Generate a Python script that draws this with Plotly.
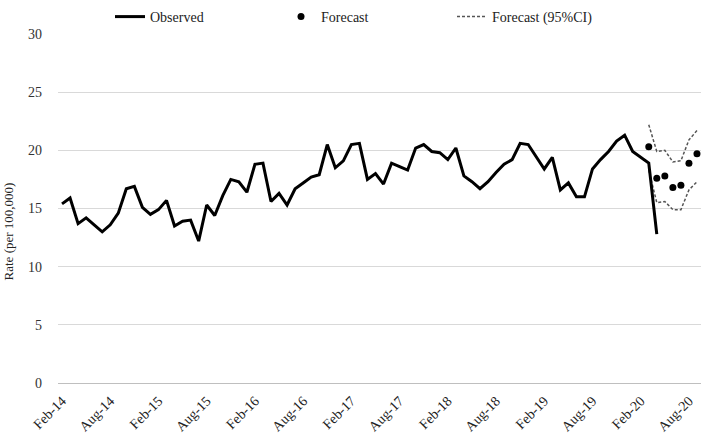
import plotly.graph_objects as go
import pandas as pd

# Monthly categories Feb-14 .. Sep-20
months = [d.strftime("%b-%y") for d in pd.date_range("2014-02-01", "2020-09-01", freq="MS")]
tick_labels = ["Feb-14", "Aug-14", "Feb-15", "Aug-15", "Feb-16", "Aug-16", "Feb-17",
               "Aug-17", "Feb-18", "Aug-18", "Feb-19", "Aug-19", "Feb-20", "Aug-20"]

observed = [15.4, 15.9, 13.7, 14.2, 13.6, 13.0, 13.6, 14.6, 16.7, 16.9, 15.1, 14.5,
            14.9, 15.7, 13.5, 13.9, 14.0, 12.2, 15.3, 14.4, 16.1, 17.5, 17.3, 16.4,
            18.8, 18.9, 15.6, 16.3, 15.3, 16.7, 17.2, 17.7, 17.9, 20.5, 18.5, 19.1,
            20.5, 20.6, 17.5, 18.0, 17.1, 18.9, 18.6, 18.3, 20.2, 20.5, 19.9, 19.8,
            19.2, 20.2, 17.8, 17.3, 16.7, 17.3, 18.1, 18.8, 19.2, 20.6, 20.5, 19.5,
            18.4, 19.4, 16.6, 17.2, 16.0, 16.0, 18.4, 19.2, 19.9, 20.8, 21.3, 19.9,
            19.4, 18.9, 12.8]
forecast_months = ["Mar-20", "Apr-20", "May-20", "Jun-20", "Jul-20", "Aug-20", "Sep-20"]
forecast = [20.3, 17.6, 17.8, 16.8, 17.0, 18.9, 19.7]
ci_upper = [22.2, 19.9, 20.0, 19.0, 19.1, 20.9, 21.7]
ci_lower = [18.3, 15.5, 15.6, 14.9, 14.9, 16.6, 17.3]

FONT = "Liberation Serif"
L, R, T, B = 58, 2, 33, 53
W, H = 703, 436
PW, PH = W - L - R, H - T - B

fig = go.Figure()
fig.add_trace(go.Scatter(x=forecast_months, y=ci_upper, mode="lines", name="Forecast (95%CI)",
                         line=dict(color="#555555", width=1.5, dash="3px,2px"),
                         legendgroup="ci", legendrank=3))
fig.add_trace(go.Scatter(x=forecast_months, y=ci_lower, mode="lines", name="Forecast (95%CI)",
                         line=dict(color="#555555", width=1.5, dash="3px,2px"),
                         legendgroup="ci", showlegend=False))
fig.add_trace(go.Scatter(x=months[:len(observed)], y=observed, mode="lines", name="Observed",
                         line=dict(color="black", width=3), legendrank=1))
fig.add_trace(go.Scatter(x=forecast_months, y=forecast, mode="markers", name="Forecast",
                         marker=dict(color="black", size=7), legendrank=2))

fig.add_annotation(text="Rate (per 100,000)", textangle=-90, xref="paper", yref="paper",
                   x=(8 - L) / PW, y=(H - B - 231) / PH,
                   xanchor="center", yanchor="middle", showarrow=False,
                   font=dict(family=FONT, size=13, color="#222222"))

fig.update_layout(
    width=W, height=H,
    margin=dict(l=L, r=R, t=T, b=B),
    paper_bgcolor="white", plot_bgcolor="white",
    font=dict(family=FONT, size=14, color="#333333"),
    showlegend=True,
    legend=dict(orientation="h", x=(110 - L) / PW, xanchor="left",
                y=1 + (T - 1) / PH, yanchor="top",
                entrywidth=126, entrywidthmode="pixels", itemwidth=30,
                font=dict(family=FONT, size=14, color="#222222")),
    xaxis=dict(type="category", categoryorder="array", categoryarray=months,
               range=[-0.5, len(months) - 0.5], automargin=False,
               tickmode="array", tickvals=tick_labels, ticktext=tick_labels,
               tickangle=-45, showgrid=False, showline=False, ticks="",
               ticklabelstandoff=6,
               tickfont=dict(family=FONT, size=14, color="#222222"),
               zeroline=False),
    yaxis=dict(range=[0, 30], dtick=5, showgrid=True, gridcolor="#d9d9d9", gridwidth=1,
               zeroline=True, zerolinecolor="#bfbfbf", zerolinewidth=1, automargin=False,
               showline=False, ticks="", ticklabelstandoff=15,
               tickfont=dict(family=FONT, size=14, color="#333333")),
)

fig.write_html("out.html", config={"displayModeBar": False},
               post_script="document.body.style.margin='0';")
